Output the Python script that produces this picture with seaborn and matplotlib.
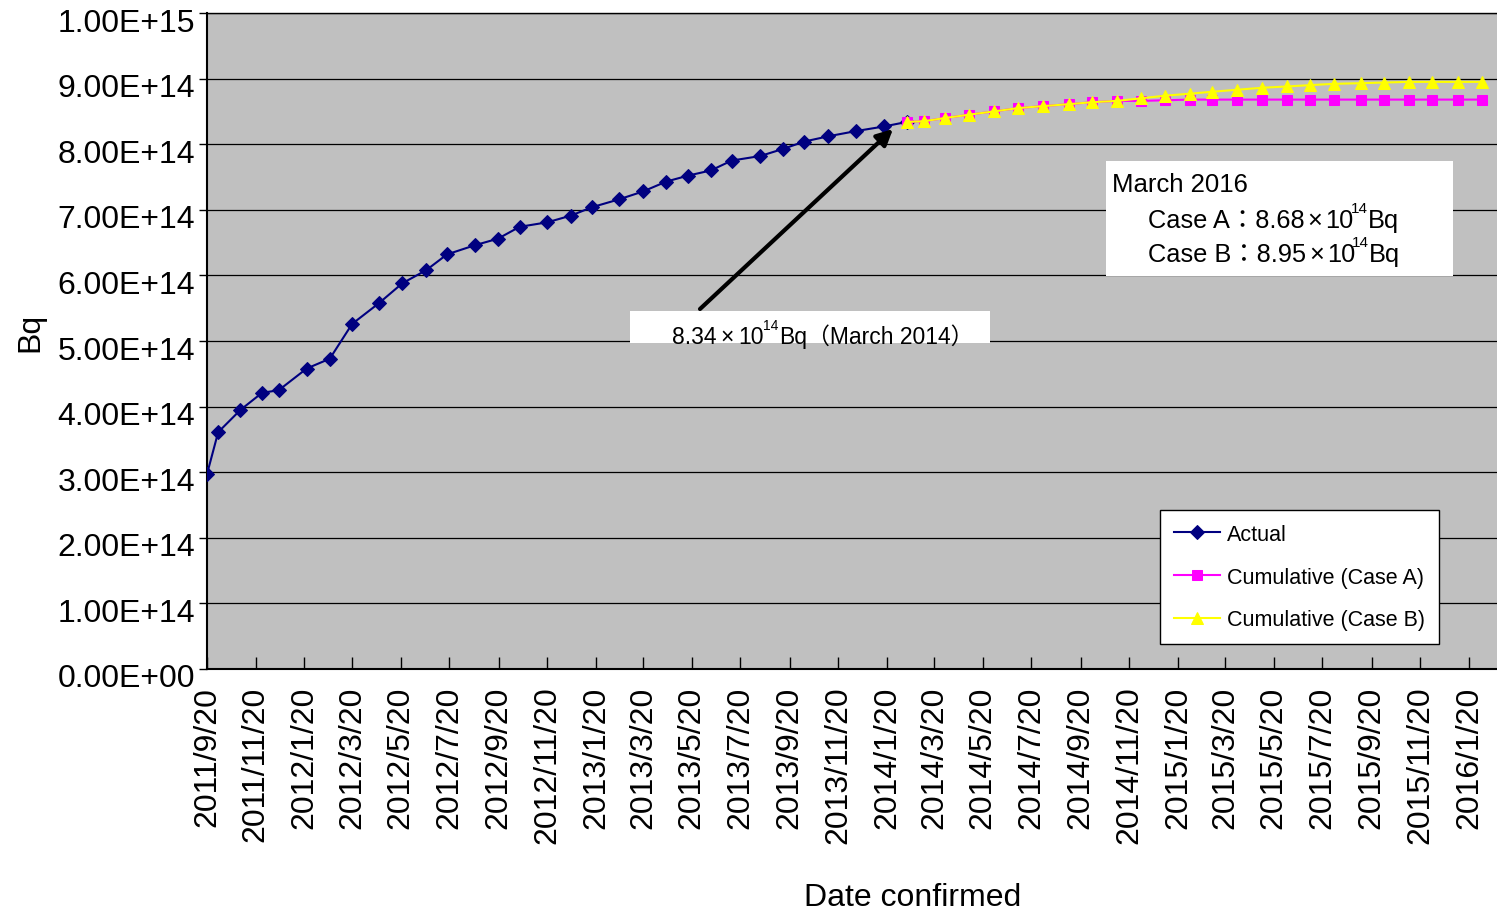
import numpy as np
import pandas as pd
import matplotlib
matplotlib.use("Agg")
import matplotlib.pyplot as plt
import matplotlib.dates as mdates
from matplotlib.ticker import FuncFormatter, MultipleLocator
from matplotlib.patches import Rectangle
from matplotlib.transforms import ScaledTranslation
import seaborn as sns

# values, in units of 1e14 Bq
actual_dates = ["2011-09-20", "2011-10-04", "2011-11-01", "2011-11-28", "2011-12-19",
                "2012-01-23", "2012-02-21", "2012-03-20", "2012-04-23", "2012-05-22",
                "2012-06-21", "2012-07-17", "2012-08-21", "2012-09-19", "2012-10-16",
                "2012-11-20", "2012-12-19", "2013-01-15", "2013-02-18", "2013-03-20",
                "2013-04-18", "2013-05-15", "2013-06-13", "2013-07-09", "2013-08-14",
                "2013-09-12", "2013-10-08", "2013-11-07", "2013-12-12", "2014-01-16",
                "2014-02-14"]
actual_vals = [2.97, 3.61, 3.95, 4.21, 4.25, 4.58, 4.73, 5.26, 5.58, 5.88,
               6.08, 6.32, 6.46, 6.56, 6.74, 6.81, 6.91, 7.04, 7.16, 7.28,
               7.43, 7.52, 7.60, 7.75, 7.82, 7.93, 8.04, 8.12, 8.20, 8.27,
               8.34]

forecast_dates = ["2014-02-14", "2014-03-07", "2014-04-03", "2014-05-03", "2014-06-03",
                  "2014-07-03", "2014-08-03", "2014-09-05", "2014-10-04", "2014-11-04",
                  "2014-12-05", "2015-01-04", "2015-02-04", "2015-03-04", "2015-04-04",
                  "2015-05-05", "2015-06-05", "2015-07-04", "2015-08-03", "2015-09-06",
                  "2015-10-05", "2015-11-05", "2015-12-05", "2016-01-06", "2016-02-05"]
case_a_vals = [8.34, 8.35, 8.40, 8.45, 8.50, 8.55, 8.58, 8.61, 8.64, 8.66,
               8.66, 8.67, 8.68, 8.68, 8.68, 8.68, 8.68, 8.68, 8.68, 8.68,
               8.68, 8.68, 8.68, 8.68, 8.68]
case_b_vals = [8.34, 8.35, 8.40, 8.45, 8.50, 8.55, 8.58, 8.61, 8.64, 8.66,
               8.70, 8.74, 8.77, 8.80, 8.83, 8.86, 8.88, 8.90, 8.92, 8.93,
               8.94, 8.95, 8.95, 8.95, 8.95]

plt.rcParams['font.family'] = ['Liberation Sans', 'Noto Sans CJK JP']

W, H = 1497, 912
fig = plt.figure(figsize=(W / 100, H / 100), dpi=100)
ax = fig.add_axes([207 / W, 1 - 670 / H, 1290 / W, 656 / H])
ax.set_facecolor("#c0c0c0")

ad = pd.to_datetime(actual_dates)
fd = pd.to_datetime(forecast_dates)

sns.lineplot(x=ad, y=np.array(actual_vals) * 1e14, ax=ax, color="#000080", lw=1.5,
             marker="D", ms=7, markeredgecolor="#000080", label="Actual", zorder=3)
sns.lineplot(x=fd, y=np.array(case_a_vals) * 1e14, ax=ax, color="#ff00ff", lw=1.5,
             marker="s", ms=7.5, markeredgecolor="#ff00ff", label="Cumulative (Case A)", zorder=4)
sns.lineplot(x=fd, y=np.array(case_b_vals) * 1e14, ax=ax, color="#ffff00", lw=1.5,
             marker="^", ms=8.5, markeredgecolor="#ffff00", label="Cumulative (Case B)", zorder=5)

# axes
ax.set_ylim(0, 1e15)
ax.set_xlim(pd.Timestamp("2011-09-20"), pd.Timestamp("2016-02-24"))
ax.yaxis.set_major_locator(MultipleLocator(1e14))
ax.yaxis.set_major_formatter(FuncFormatter(lambda v, p: f"{v:.2E}"))
ax.xaxis.set_major_locator(mdates.MonthLocator(bymonth=(1, 3, 5, 7, 9, 11), bymonthday=20))


def date_label(v, p):
    d = mdates.num2date(v)
    return f"{d.year}/{d.month}/{d.day}"


ax.xaxis.set_major_formatter(FuncFormatter(date_label))
ax.tick_params(axis='x', direction='in', length=9, width=1, pad=12, labelsize=23, labelrotation=90)
ax.tick_params(axis='y', direction='out', length=6, width=1, pad=2.5, labelsize=23)

# y labels sit a little below their gridlines in the original
shift = ScaledTranslation(0, -6 / 100, fig.dpi_scale_trans)
for lab in ax.get_yticklabels():
    lab.set_transform(lab.get_transform() + shift)

ax.yaxis.grid(True, color='black', lw=0.9)
ax.xaxis.grid(False)
ax.set_axisbelow(True)
for s in ["left", "bottom", "top"]:
    ax.spines[s].set_color("black")
ax.spines["left"].set_linewidth(1.5)
ax.spines["bottom"].set_linewidth(1.5)
ax.spines["top"].set_linewidth(1)
ax.spines["right"].set_visible(False)

ax.set_ylabel("Bq", fontsize=23)
ax.yaxis.set_label_coords(-0.1256, 0.514)
ax.set_xlabel("Date confirmed", fontsize=23)
ax.xaxis.label.set_va('center')
ax.xaxis.set_label_coords(0.547, -0.3476)

leg = ax.legend(loc='lower left', bbox_to_anchor=(0.739, 0.038), fontsize=15.5, frameon=True,
                fancybox=False, framealpha=1, edgecolor='black', borderpad=0.65,
                labelspacing=1.0, handlelength=2.1, handletextpad=0.35, borderaxespad=0)
leg.get_frame().set_linewidth(1)
leg.set_zorder(10)

# annotation boxes (figure pixels, measured from top-left)
renderer = fig.canvas.get_renderer()


def white_box(x0, y0, x1, y1):
    fig.patches.append(Rectangle((x0 / W, 1 - y1 / H), (x1 - x0) / W, (y1 - y0) / H,
                                 transform=fig.transFigure, facecolor='white',
                                 edgecolor='none', zorder=1))


def put_runs(x, y, runs):
    # runs: (text, fontsize, rise in px, gap before in px)
    for txt, size, rise, gap in runs:
        x += gap
        t = fig.text(x / W, 1 - (y - rise) / H, txt, fontsize=size,
                     va='baseline', ha='left', zorder=2)
        x += t.get_window_extent(renderer).width


white_box(630, 312, 990, 344)
put_runs(672, 344, [("8.34", 16.5, 0, 0), ("×", 16.5, 0, 4), ("10", 16.5, 0, 4),
                    ("14", 10, 14, 0), ("Bq", 16.5, 0, 0), ("（March 2014）", 16.5, 0, 0)])

white_box(1106, 162, 1453, 277)
put_runs(1112, 192, [("March 2016", 18.5, 0, 0)])
for yy, case, val in [(228, "Case A", "8.68"), (262, "Case B", "8.95")]:
    put_runs(1148, yy, [(case + "：" + val, 18.3, 0, 0), ("×", 18.3, 0, 3), ("10", 18.3, 0, 3),
                        ("14", 11, 15, -3), ("Bq", 18.3, 0, 0)])

ax.annotate("", xy=(893 / W, 1 - 130 / H), xytext=(700 / W, 1 - 310 / H),
            xycoords='figure fraction', textcoords='figure fraction',
            arrowprops=dict(arrowstyle='-|>', color='black', lw=3, mutation_scale=24,
                            shrinkA=0, shrinkB=0), zorder=8)

fig.savefig("out.png", dpi=100)
